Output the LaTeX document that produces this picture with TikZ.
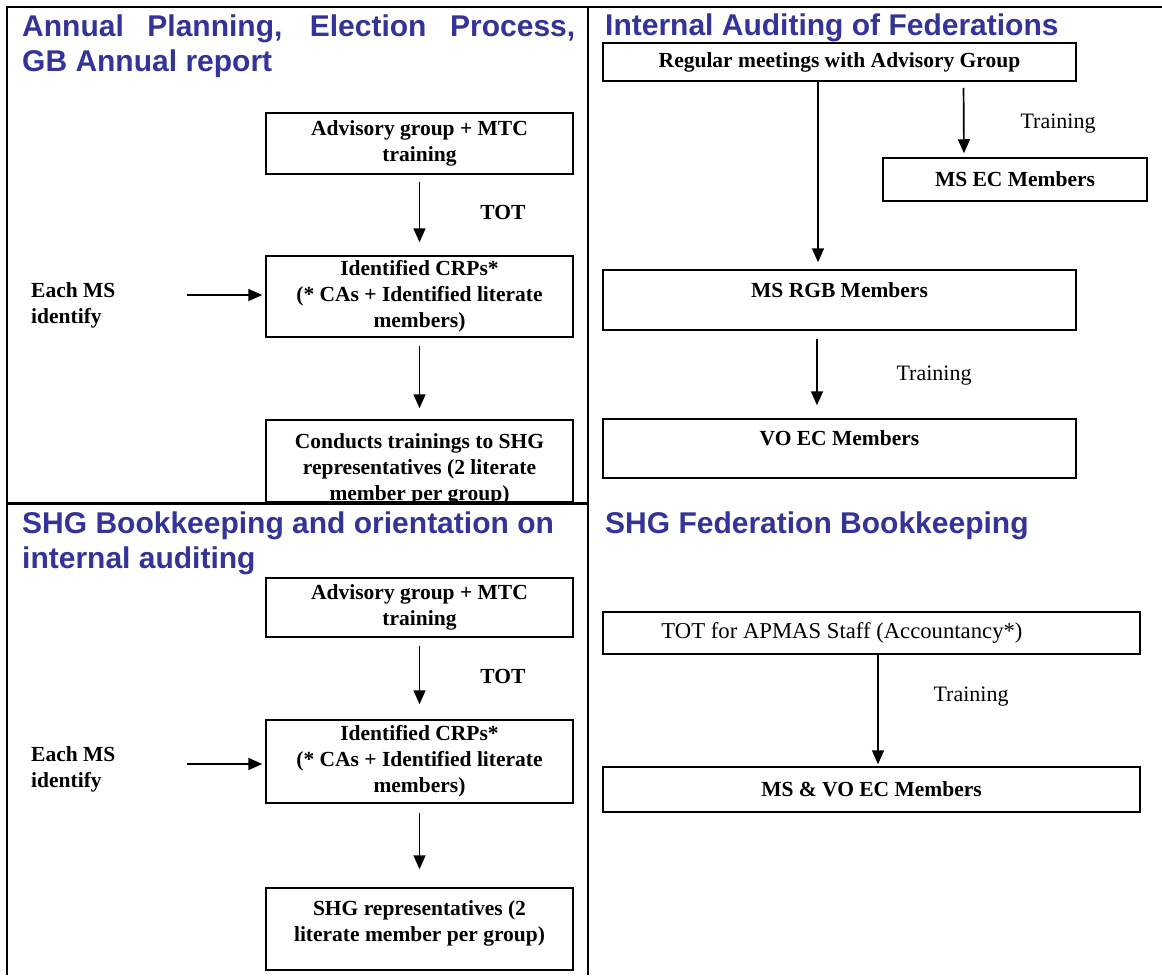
\documentclass[tikz,border=0pt]{standalone}
\usepackage{fontspec}
\setmainfont{Liberation Serif}
\newfontfamily\headfont{Liberation Sans}
\usetikzlibrary{arrows.meta,calc}
\definecolor{headblue}{RGB}{51,51,153}
\begin{document}
\begin{tikzpicture}[x=1pt,y=-1pt,
  frame/.style={line width=2.8pt},
  box/.style={draw, line width=1.5pt, rectangle, inner sep=0pt},
  head/.style={font=\headfont\bfseries\fontsize{30}{35}\selectfont, text=headblue, inner sep=0pt},
  btxt/.style={font=\bfseries\fontsize{21.5}{26}\selectfont, align=center, inner sep=0pt},
  ltxt/.style={font=\bfseries\fontsize{21.5}{26}\selectfont, align=left, inner sep=0pt, anchor=west},
  rtxt/.style={font=\fontsize{22}{26}\selectfont, inner sep=0pt},
  arr/.style={line width=1.7pt, -{Triangle[length=14pt,width=12pt]}},
]
\useasboundingbox (0,0) rectangle (1162,975);

% ---------- Top left ----------
\node[head, anchor=north west, text width=553pt, align=justify] (h1) at (22,15)
  {Annual Planning, Election Process,\linebreak GB Annual report};
\node[box, minimum width=307pt, minimum height=61pt, btxt] (a1) at (419.5,143.5)
  {Advisory group + MTC\\training};
\node[box, minimum width=307pt, minimum height=81pt, btxt] (a2) at (419.5,296.5)
  {Identified CRPs*\\(* CAs + Identified literate\\members)};
\node[box, minimum width=307pt, minimum height=82pt] (a3) at (419.5,461) {};
\begin{scope}
  \clip (266,415) rectangle (573,500.5);
  \node[btxt] (a3t) at (419.5,469) {Conducts trainings to SHG\\representatives (2 literate\\member per group)};
\end{scope}
\node[ltxt] (e1) at (31,305) {Each MS\\identify};
\coordinate (e1s) at (187,295);
\node[btxt] (tot1) at (503,212) {TOT};
\draw[arr, shorten <=7pt, shorten >=13pt] (a1.south) -- (a2.north);
\draw[arr, shorten <=8pt, shorten >=11pt] (a2.south) -- (a3.north);
\draw[arr, shorten >=3pt] (e1s) -- (e1s -| a2.west);

% ---------- Top right ----------
\node[head, anchor=base west] (h2) at (605,35) {Internal Auditing of Federations};
\node[box, minimum width=473pt, minimum height=38pt, btxt] (reg) at (839.5,62)
  {Regular meetings with Advisory Group};
\node[box, minimum width=264pt, minimum height=43pt, btxt] (msec) at (1015,179.5)
  {MS EC Members};
\node[box, minimum width=473pt, minimum height=60pt] (rgb) at (839.5,300) {};
\node[btxt] (rgbt) at (839.5,290) {MS RGB Members};
\node[box, minimum width=473pt, minimum height=59pt] (voec) at (839.5,448.5) {};
\node[btxt] (voect) at (839.5,438) {VO EC Members};
\node[rtxt] (tr1) at (1058,124) {Training};
\node[rtxt] (tr2) at (934,376) {Training};
\draw[arr, shorten >=7pt] ([xshift=-21.5pt]reg.south) -- ([xshift=-21.5pt]rgb.north);
\draw[arr, shorten <=6pt, shorten >=4pt] ([xshift=124pt]reg.south) -- ([xshift=-51pt]msec.north);
\draw[arr, shorten <=8pt, shorten >=13pt] ([xshift=-22.5pt]rgb.south) -- ([xshift=-22.5pt]voec.north);

% ---------- Bottom left ----------
\node[head, anchor=north west, align=left] (h3) at (22,511.5)
  {SHG Bookkeeping and orientation on\\internal auditing};
\node[box, minimum width=307pt, minimum height=59pt, btxt] (b1) at (419.5,607.5)
  {Advisory group + MTC\\training};
\node[box, minimum width=307pt, minimum height=83pt, btxt] (b2) at (419.5,761.5)
  {Identified CRPs*\\(* CAs + Identified literate\\members)};
\node[box, minimum width=307pt, minimum height=82pt] (b3) at (419.5,929) {};
\node[btxt] (b3t) at (419.5,923) {SHG representatives (2\\literate member per group)};
\node[ltxt] (e2) at (31,769) {Each MS\\identify};
\coordinate (e2s) at (187,764);
\node[btxt] (tot2) at (503,676) {TOT};
\draw[arr, shorten <=8pt, shorten >=15pt] (b1.south) -- (b2.north);
\draw[arr, shorten <=9pt, shorten >=18pt] (b2.south) -- (b3.north);
\draw[arr, shorten >=3pt] (e2s) -- (e2s -| b2.west);

% ---------- Bottom right ----------
\node[head, anchor=base west] (h4) at (605,533) {SHG Federation Bookkeeping};
\node[box, minimum width=537pt, minimum height=42pt] (c1) at (871.5,633) {};
\node[rtxt, font=\fontsize{22.7}{26}\selectfont] (c1t) at (842,633) {TOT for APMAS Staff (Accountancy*)};
\node[box, minimum width=537pt, minimum height=45pt, btxt] (c2) at (871.5,789.5)
  {MS \& VO EC Members};
\node[rtxt] (tr3) at (971,697) {Training};
\draw[arr, shorten >=2pt] ([xshift=6.5pt]c1.south) -- ([xshift=6.5pt]c2.north);

% ---------- Frame ----------
\draw[frame] (7,975) -- (7,7) -- (1162,7);
\draw[frame] (588,7) -- (588,975);
\draw[frame] (7,503.5) -- (588,503.5);
\end{tikzpicture}
\end{document}
